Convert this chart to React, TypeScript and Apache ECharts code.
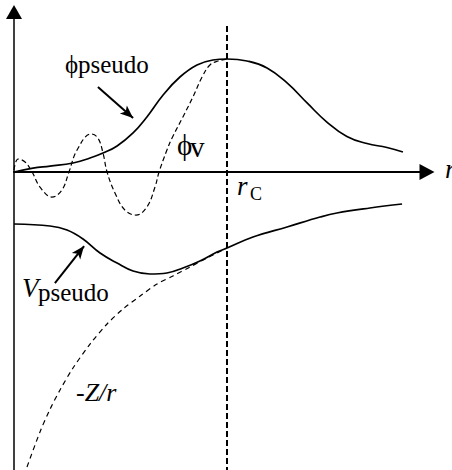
import React, { useEffect, useRef } from "react";
import * as echarts from "echarts";

// r in units of r_C, values in units of the pseudo wavefunction peak
const phiPseudoR = [0, 0.089, 0.169, 0.277, 0.357, 0.418, 0.484, 0.559, 0.624, 0.70, 0.779, 0.859, 0.934, 1.0, 1.094, 1.188, 1.282, 1.376, 1.469, 1.563, 1.657, 1.751, 1.826];
const phiPseudoY = [0, 0.036, 0.054, 0.082, 0.127, 0.172, 0.236, 0.354, 0.499, 0.698, 0.861, 0.970, 1.015, 1.024, 1.006, 0.943, 0.807, 0.626, 0.453, 0.322, 0.258, 0.222, 0.181];

const phiVR = [0, 0.019, 0.052, 0.085, 0.122, 0.178, 0.225, 0.258, 0.296, 0.362, 0.394, 0.418, 0.437, 0.474, 0.521, 0.573, 0.624, 0.662, 0.681, 0.718, 0.742, 0.793, 0.840, 0.883, 0.920, 0.958, 1.0];
const phiVY = [0.018, 0.118, 0.091, 0, -0.136, -0.227, -0.163, 0, 0.199, 0.345, 0.308, 0.172, 0, -0.190, -0.345, -0.390, -0.317, -0.136, 0, 0.199, 0.308, 0.499, 0.680, 0.861, 0.970, 1.006, 1.024];

const vPseudoR = [0, 0.169, 0.249, 0.324, 0.404, 0.484, 0.559, 0.638, 0.718, 0.793, 0.873, 0.953, 1.0, 1.122, 1.282, 1.437, 1.516, 1.671, 1.822];
const vPseudoY = [-0.471, -0.489, -0.526, -0.607, -0.734, -0.825, -0.897, -0.924, -0.915, -0.870, -0.806, -0.725, -0.689, -0.589, -0.498, -0.408, -0.371, -0.326, -0.290];

const coulombR = [0.061, 0.122, 0.169, 0.216, 0.277, 0.357, 0.437, 0.512, 0.592, 0.671, 0.746, 0.826, 0.906, 1.0];
const coulombY = [-2.673, -2.355, -2.150, -1.975, -1.776, -1.559, -1.377, -1.241, -1.124, -1.015, -0.942, -0.861, -0.779, -0.689];

const rC = 1.0;
const rCLineTop = 1.324;
const yMin = -2.7;
const yMax = 1.45;
const xMax = 1.939;

// annotation arrows: [fromR, fromY, tipR, tipY]
const phiArrow = [0.394, 0.770, 0.559, 0.489];
const vArrow = [0.192, -1.006, 0.329, -0.671];

const zip = (xs: number[], ys: number[]) => xs.map((x, i) => [x, ys[i]]);

const FAMILY = "Liberation Serif";

function label(text: string, x: number, baseline: number, size: number, italic = false) {
  return {
    type: "text",
    x,
    y: baseline - 0.3375 * size,
    silent: true,
    style: {
      text,
      fontFamily: FAMILY,
      fontSize: size,
      fontStyle: italic ? "italic" : "normal",
      fontWeight: "normal",
      fill: "#000",
      align: "left",
      verticalAlign: "middle",
    },
  };
}

export default function App() {
  const ref = useRef<HTMLDivElement>(null);
  useEffect(() => {
    if (!ref.current) return;
    const chart = echarts.init(ref.current, undefined, { renderer: "svg" });
    const black = "#000";
    chart.setOption({
      animation: false,
      backgroundColor: "#fff",
      grid: { left: 14, top: 12, width: 413, height: 458, containLabel: false },
      xAxis: {
        type: "value",
        min: 0,
        max: xMax,
        axisLine: { show: true, onZero: true, symbol: ["none", "triangle"], symbolSize: [16, 15], lineStyle: { color: black, width: 2 } },
        axisTick: { show: false },
        axisLabel: { show: false },
        splitLine: { show: false },
      },
      yAxis: {
        type: "value",
        min: yMin,
        max: yMax,
        axisLine: { show: true, onZero: false, symbol: ["none", "triangle"], symbolSize: [16, 14], lineStyle: { color: black, width: 1.5 } },
        axisTick: { show: false },
        axisLabel: { show: false },
        splitLine: { show: false },
      },
      series: [
        {
          type: "line",
          data: zip(phiVR, phiVY),
          smooth: 0.4,
          showSymbol: false,
          silent: true,
          lineStyle: { color: black, width: 1.2, type: [5, 3] },
        },
        {
          type: "line",
          data: zip(coulombR, coulombY),
          smooth: 0.3,
          showSymbol: false,
          silent: true,
          lineStyle: { color: black, width: 1.2, type: [5, 4] },
        },
        {
          type: "line",
          data: zip(phiPseudoR, phiPseudoY),
          smooth: 0.45,
          showSymbol: false,
          silent: true,
          lineStyle: { color: black, width: 1.7 },
        },
        {
          type: "line",
          data: zip(vPseudoR, vPseudoY),
          smooth: 0.4,
          showSymbol: false,
          silent: true,
          lineStyle: { color: black, width: 1.7 },
        },
        {
          type: "line",
          data: [[rC, rCLineTop], [rC, yMin]],
          showSymbol: false,
          silent: true,
          lineStyle: { color: black, width: 2, type: [6, 3] },
          markLine: {
            silent: true,
            symbol: ["none", "arrow"],
            symbolSize: [8, 13],
            label: { show: false },
            lineStyle: { color: black, width: 2, type: "solid" },
            itemStyle: { color: black },
            emphasis: { disabled: true },
            data: [
              [{ coord: [phiArrow[0], phiArrow[1]] }, { coord: [phiArrow[2], phiArrow[3]] }],
              [{ coord: [vArrow[0], vArrow[1]] }, { coord: [vArrow[2], vArrow[3]] }],
            ],
          },
        },
      ],
      graphic: [
        label("ϕ", 65, 73, 25),
        label("pseudo", 78, 73, 25),
        label("ϕ", 177, 155, 29),
        label("v", 190, 157, 29),
        label("r", 237, 195, 27, true),
        label("C", 250, 200, 18),
        label("r", 445, 178, 27, true),
        label("V", 22, 297, 27, true),
        label("pseudo", 38, 301, 25),
        label("-Z/r", 76, 401, 26, true),
      ],
    });
    return () => chart.dispose();
  }, []);
  return (
    <div
      ref={ref}
      style={{ position: "absolute", left: 0, top: 0, width: 452, height: 470, background: "#fff" }}
    />
  );
}
